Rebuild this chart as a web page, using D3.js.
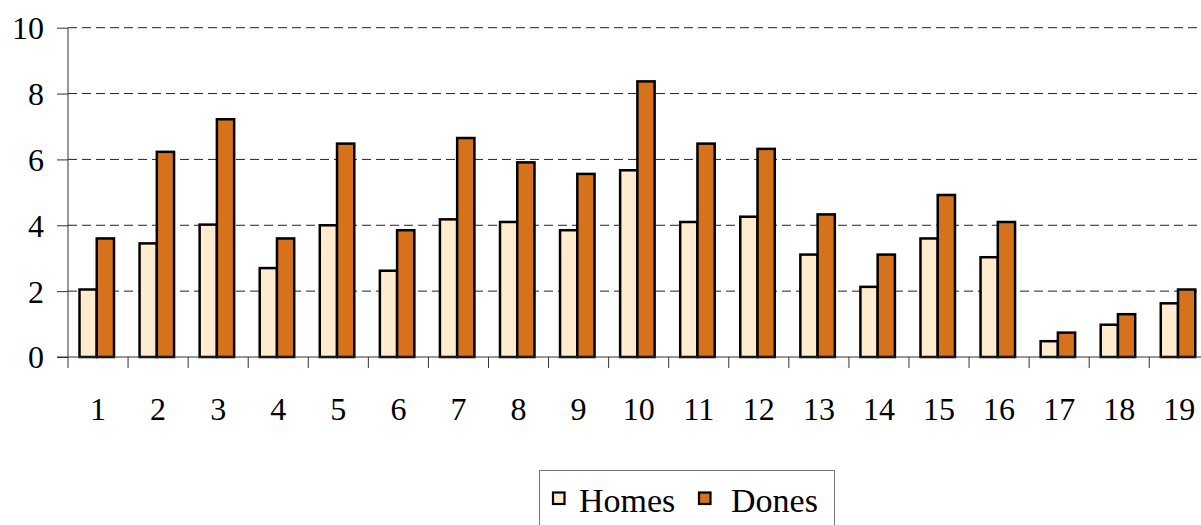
<!DOCTYPE html>
<html>
<head>
<meta charset="utf-8">
<script src="https://cdn.jsdelivr.net/npm/d3@7/dist/d3.min.js"></script>
<style>
  html, body { margin: 0; padding: 0; background: #fff; overflow: hidden; }
  svg { display: block; }
  svg text { font-family: "Liberation Serif", "Times New Roman", serif; }
</style>
</head>
<body>
<svg id="chart" width="1201" height="525"></svg>
<script>
const categories = ["1","2","3","4","5","6","7","8","9","10","11","12","13","14","15","16","17","18","19"];
const seriesNames = ["Homes", "Dones"];
const homes = [2.05, 3.45, 4.02, 2.7, 4.0, 2.62, 4.18, 4.1, 3.85, 5.67, 4.1, 4.26, 3.11, 2.13, 3.6, 3.03, 0.48, 0.98, 1.63];
const dones = [3.6, 6.23, 7.22, 3.6, 6.48, 3.85, 6.65, 5.91, 5.56, 8.37, 6.48, 6.32, 4.33, 3.11, 4.92, 4.1, 0.74, 1.3, 2.05];
const yTicks = [0, 2, 4, 6, 8, 10];
const colors = { Homes: "#FFEBCD", Dones: "#D6721C" };

const svg = d3.select("#chart");

const left = 68, bandW = 60.07;
const x0 = d3.scaleBand().domain(categories).range([left, left + bandW * categories.length]).padding(0);
const x1 = d3.scaleBand().domain(seriesNames).range([11.5, 46]).padding(0);
const y = d3.scaleLinear().domain([0, 10]).range([357, 27.7]);

// gridlines
svg.append("g").selectAll("line").data(yTicks.filter(d => d > 0)).join("line")
  .attr("x1", left).attr("x2", 1201)
  .attr("y1", d => y(d)).attr("y2", d => y(d))
  .attr("stroke", "#222").attr("stroke-width", 1).attr("stroke-dasharray", "9,5");

// bars
const rows = categories.map((c, i) => ({ c, vals: [{ s: "Homes", v: homes[i] }, { s: "Dones", v: dones[i] }] }));
svg.append("g").selectAll("g").data(rows).join("g")
  .attr("transform", d => `translate(${x0(d.c)},0)`)
  .selectAll("rect").data(d => d.vals).join("rect")
  .attr("x", d => x1(d.s))
  .attr("width", x1.bandwidth())
  .attr("y", d => y(d.v))
  .attr("height", d => y(0) - y(d.v))
  .attr("fill", d => colors[d.s])
  .attr("stroke", "#000").attr("stroke-width", 2.5);

// y axis
const yAxis = d3.axisLeft(y).tickValues(yTicks).tickSize(11).tickPadding(13).tickFormat(d3.format("d"));
const ya = svg.append("g").attr("transform", `translate(${left},0)`).call(yAxis);
ya.attr("font-family", null).attr("font-size", null);
ya.select(".domain").attr("stroke", "#333").attr("d", `M0,${y(10)}V${y(0)}`);
ya.selectAll(".tick line").attr("stroke", "#333");
ya.selectAll(".tick text").style("font-size", "32px").attr("fill", "#000").attr("dy", "0.34em");

// x axis
const xa = svg.append("g").attr("transform", `translate(0,${y(0)})`);
xa.append("line").attr("x1", left - 11).attr("x2", 1201).attr("y1", 0).attr("y2", 0).attr("stroke", "#333");
xa.selectAll("line.tk").data(categories.map((c) => x0(c)).concat([x0(categories[categories.length-1]) + bandW])).join("line")
  .attr("class", "tk")
  .attr("x1", d => d).attr("x2", d => d).attr("y1", 0).attr("y2", 11).attr("stroke", "#333");
xa.selectAll("text").data(categories).join("text")
  .attr("x", d => x0(d) + bandW / 2).attr("y", 63)
  .attr("text-anchor", "middle")
  .style("font-size", "32px").attr("fill", "#000")
  .text(d => d);

// legend
const lg = svg.append("g");
lg.append("rect").attr("x", 539.5).attr("y", 470.5).attr("width", 295).attr("height", 70)
  .attr("fill", "#fff").attr("stroke", "#777").attr("stroke-width", 1);
const legItems = [{ s: "Homes", sx: 553, tx: 579 }, { s: "Dones", sx: 699, tx: 731 }];
legItems.forEach(it => {
  lg.append("rect").attr("x", it.sx).attr("y", 492.5).attr("width", 11.5).attr("height", 11.5)
    .attr("fill", colors[it.s]).attr("stroke", "#000").attr("stroke-width", 2.2);
  lg.append("text").attr("x", it.tx).attr("y", 512)
    .style("font-size", "34px").attr("fill", "#000").text(it.s);
});
</script>
</body>
</html>
